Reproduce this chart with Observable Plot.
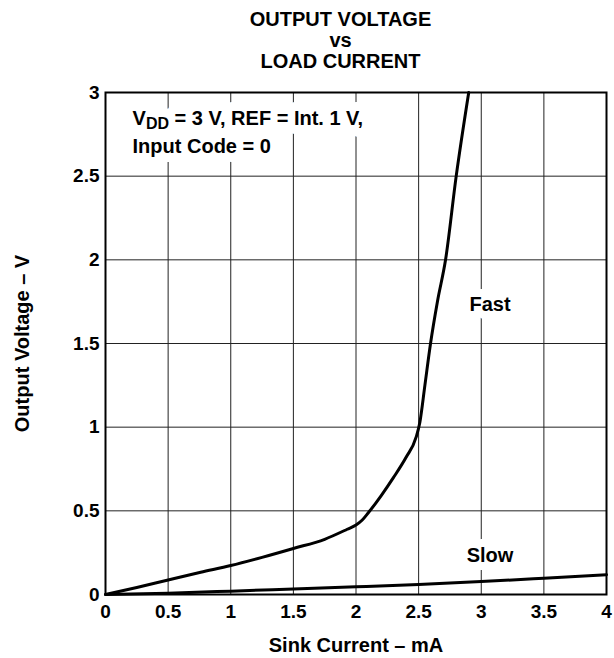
<!DOCTYPE html>
<html>
<head>
<meta charset="utf-8">
<script src="https://cdn.jsdelivr.net/npm/d3@7"></script>
<script src="https://cdn.jsdelivr.net/npm/@observablehq/plot@0.6"></script>
<style>
  html, body { margin: 0; padding: 0; background: #fff; }
  #chart { width: 614px; height: 658px; }
</style>
</head>
<body>
<div id="chart"></div>
<script>
// Fast curve (sink current mA, output voltage V)
const fastCurrent = [0, 0.25, 0.5, 0.76, 1, 1.25, 1.5, 1.75, 1.93, 2.0, 2.05, 2.1, 2.2, 2.3, 2.4, 2.48, 2.51, 2.55, 2.595, 2.65, 2.715, 2.8, 2.9];
const fastVoltage = [0, 0.042, 0.087, 0.133, 0.173, 0.222, 0.275, 0.33, 0.39, 0.415, 0.445, 0.49, 0.59, 0.7, 0.82, 0.94, 1.03, 1.25, 1.5, 1.75, 2.0, 2.5, 3.0];
// Slow curve
const slowCurrent = [0, 0.5, 1, 1.5, 2, 2.5, 3, 3.5, 4];
const slowVoltage = [0, 0.008, 0.02, 0.033, 0.046, 0.06, 0.077, 0.097, 0.118];

const xTicks = [0, 0.5, 1, 1.5, 2, 2.5, 3, 3.5, 4];
const yTicks = [0, 0.5, 1, 1.5, 2, 2.5, 3];

const titleText = "OUTPUT VOLTAGE\nvs\nLOAD CURRENT";
const xLabel = "Sink Current – mA";
const yLabel = "Output Voltage – V";
const seriesLabels = [
  {x: 3.07, y: 1.73, text: "Fast"},
  {x: 3.07, y: 0.23, text: "Slow"}
];
const conditionLines = [
  {x: 0.216, y: 2.842, text: "VDD = 3 V, REF = Int. 1 V,"},
  {x: 0.216, y: 2.674, text: "Input Code = 0"}
];

const fast = fastCurrent.map((x, i) => ({x, y: fastVoltage[i]}));
const slow = slowCurrent.map((x, i) => ({x, y: slowVoltage[i]}));

const font = "'Liberation Sans', Arial, Helvetica, sans-serif";
const tickFmt = d => String(d);

const plot = Plot.plot({
  width: 614,
  height: 658,
  marginLeft: 105,
  marginRight: 8,
  marginTop: 92,
  marginBottom: 64,
  style: {fontFamily: font, fontSize: "19px", fontWeight: "bold", color: "#000", background: "#fff"},
  x: {domain: [0, 4]},
  y: {domain: [0, 3]},
  marks: [
    Plot.gridX(xTicks, {stroke: "#222", strokeOpacity: 1, strokeWidth: 1}),
    Plot.gridY(yTicks, {stroke: "#222", strokeOpacity: 1, strokeWidth: 1}),
    // white backgrounds behind in-plot texts
    Plot.text(conditionLines, {x: "x", y: "y", text: "text", textAnchor: "start", fontSize: 20, fontWeight: "bold", fill: "white", stroke: "white", strokeWidth: 18}),
    Plot.text(seriesLabels, {x: "x", y: "y", text: "text", fontSize: 20, fontWeight: "bold", fill: "white", stroke: "white", strokeWidth: 16}),
    Plot.text(conditionLines, {x: "x", y: "y", text: "text", textAnchor: "start", fontSize: 20, fontWeight: "bold", fill: "#000"}),
    Plot.text(seriesLabels, {x: "x", y: "y", text: "text", fontSize: 20, fontWeight: "bold", fill: "#000"}),
    Plot.line(slow, {x: "x", y: "y", stroke: "#000", strokeWidth: 3, curve: "monotone-x"}),
    Plot.line(fast, {x: "x", y: "y", stroke: "#000", strokeWidth: 3, curve: "monotone-x"}),
    Plot.frame({stroke: "#000", strokeWidth: 2}),
    Plot.axisX(xTicks, {tickSize: 0, tickPadding: 10, fontSize: 19, fontWeight: "bold", tickFormat: tickFmt, label: null}),
    Plot.axisY(yTicks, {tickSize: 0, tickPadding: 6, fontSize: 19, fontWeight: "bold", tickFormat: tickFmt, label: null}),
    Plot.text([xLabel], {frameAnchor: "bottom", dy: 57, fontSize: 20, fontWeight: "bold", fill: "#000"}),
    Plot.text([yLabel], {frameAnchor: "left", textAnchor: "middle", dx: -82.5, rotate: -90, fontSize: 20, fontWeight: "bold", fill: "#000"}),
    Plot.text([titleText], {frameAnchor: "top", dx: -15.5, dy: -82, lineAnchor: "top", lineHeight: 1.07, fontSize: 20, fontWeight: "bold", fill: "#000"})
  ]
});

// Subscript "DD" in V_DD
d3.select(plot).selectAll("text").each(function() {
  const t = d3.select(this);
  const txt = this.textContent;
  if (txt.startsWith("VDD") && this.childElementCount === 0) {
    this.textContent = "";
    t.append("tspan").text("V");
    t.append("tspan").attr("dy", "4px").attr("font-size", "0.8em").text("DD");
    t.append("tspan").attr("dy", "-4px").text(txt.slice(3));
  }
});

document.getElementById("chart").appendChild(plot);
</script>
</body>
</html>
